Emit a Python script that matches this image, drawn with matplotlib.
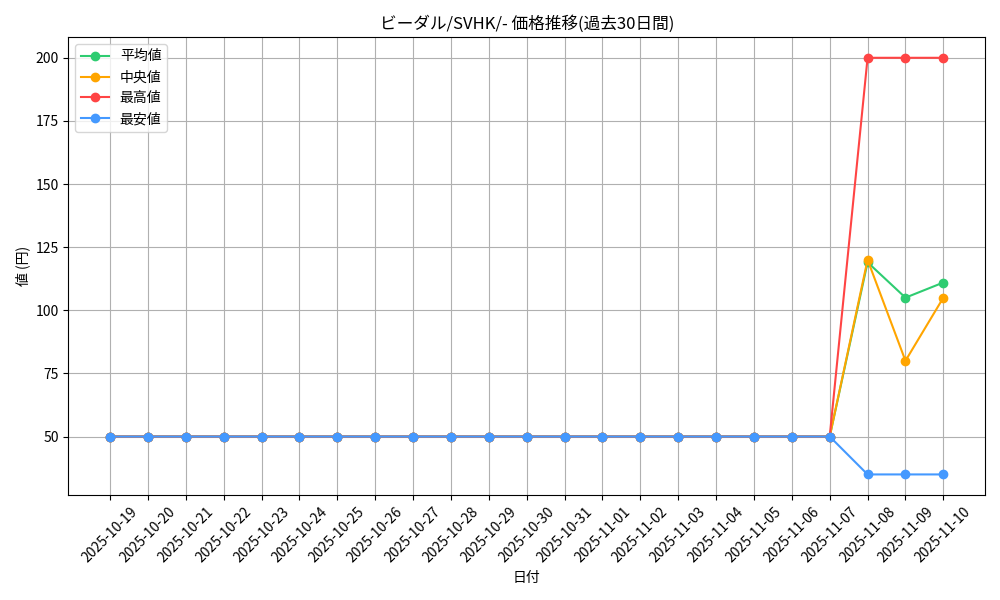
import pandas as pd
import matplotlib
matplotlib.use('Agg')
import matplotlib.pyplot as plt

plt.rcParams['font.family'] = ['Noto Sans CJK JP', 'DejaVu Sans']

# Data
dates = pd.date_range('2025-10-19', '2025-11-10').strftime('%Y-%m-%d').tolist()
avg_vals = [50] * 20 + [119, 105, 111]
median_vals = [50] * 20 + [120, 80, 105]
max_vals = [50] * 20 + [200, 200, 200]
min_vals = [50] * 20 + [35, 35, 35]

fig, ax = plt.subplots(figsize=(10, 6), dpi=100)
ax.plot(dates, avg_vals, marker='o', color='#2ecc71', label='平均値')
ax.plot(dates, median_vals, marker='o', color='#ffa500', label='中央値')
ax.plot(dates, max_vals, marker='o', color='#ff4444', label='最高値')
ax.plot(dates, min_vals, marker='o', color='#4499ff', label='最安値')

ax.set_title('ビーダル/SVHK/- 価格推移(過去30日間)')
ax.set_xlabel('日付')
ax.set_ylabel('値 (円)')
ax.grid(True)
ax.legend(loc='upper left')
plt.xticks(rotation=45)
plt.tight_layout()
plt.savefig('out.png')
